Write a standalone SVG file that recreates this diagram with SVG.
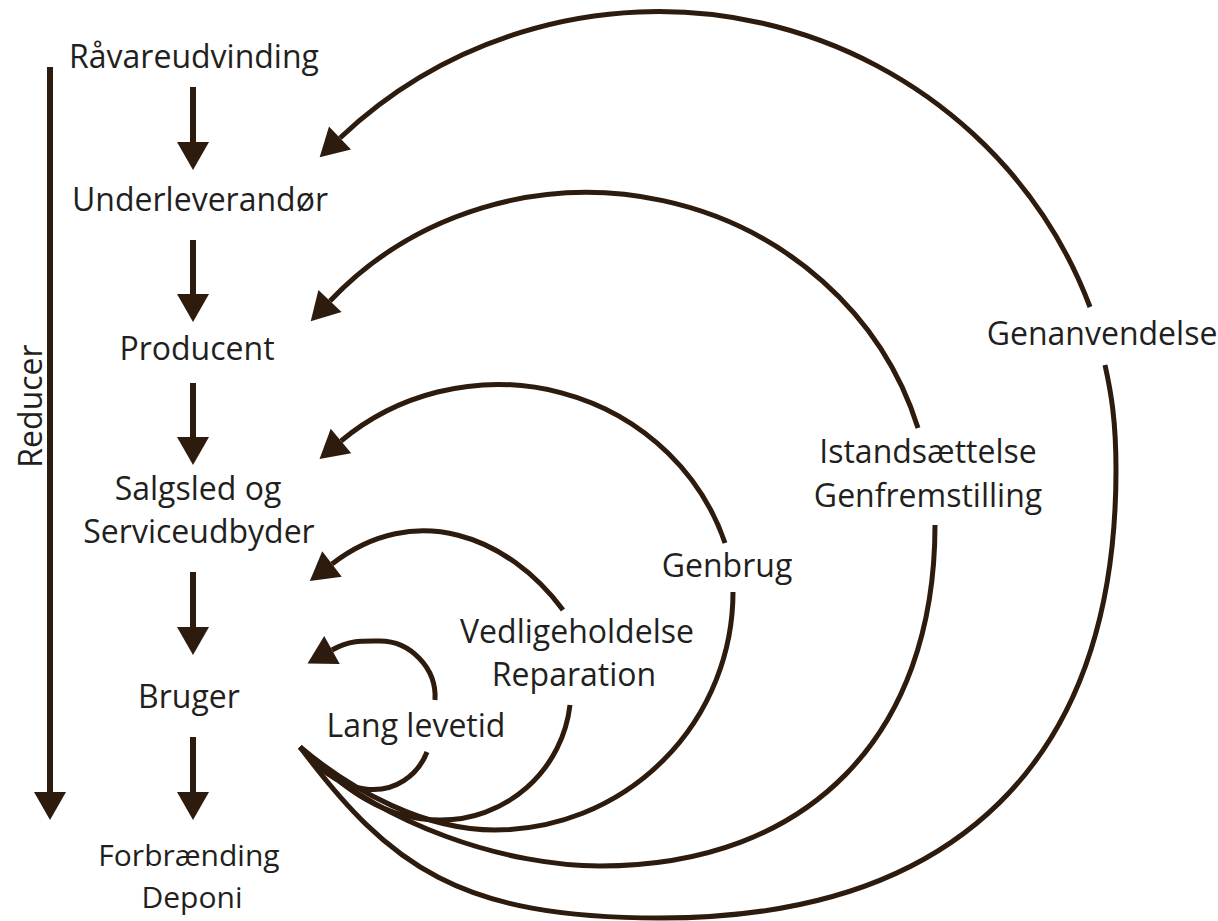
<svg xmlns="http://www.w3.org/2000/svg" width="1218" height="921" viewBox="0 0 1218 921">
<style>
  .lbl { font-family: "Open Sans", "Liberation Sans", sans-serif; font-size: 32px; fill: #231f20; text-anchor: middle; }
  .sm { font-size: 30px; }
  .ln { fill: none; stroke: #2d1b0e; stroke-width: 5; stroke-linecap: butt; }
  .vl { fill: none; stroke: #2d1b0e; stroke-width: 6; }
  .arr { marker-end: url(#ah); }
</style>
<defs>
  <marker id="ah" markerUnits="userSpaceOnUse" markerWidth="40" markerHeight="40" refX="0" refY="0" orient="auto" viewBox="-2 -20 34 40" overflow="visible">
    <path d="M0,-16 L28,0 L0,16 Z" fill="#2d1b0e"/>
  </marker>
</defs>
<rect width="1218" height="921" fill="#ffffff"/>

<g id="connectors">
  <!-- vertical flow arrows -->
  <line class="vl arr" x1="193" y1="87" x2="193" y2="142"/>
  <line class="vl arr" x1="193" y1="240" x2="193" y2="294"/>
  <line class="vl arr" x1="193" y1="383" x2="193" y2="437"/>
  <line class="vl arr" x1="193" y1="572" x2="193" y2="627"/>
  <line class="vl arr" x1="193" y1="737" x2="193" y2="792"/>
  <!-- Reducer arrow -->
  <line class="vl arr" x1="50" y1="67" x2="50" y2="792"/>

  <!-- Lang levetid -->
  <path class="ln" d="M300,747 C315,765 335,785 365,789 C395,793 418,775 427,752"/>
  <path class="ln arr" d="M435,700 C437,668 410,641 380,641 C362,641 350,640 332,650"/>

  <!-- Vedligeholdelse / Reparation -->
  <path class="ln" d="M300,747 C345,790 385,820 440,820 A130,130 0 0 0 570,705"/>
  <path class="ln arr" d="M563,610 C508,536 415,500 332,564"/>

  <!-- Genbrug -->
  <path class="ln" d="M300,747 C354,792 425,830 495,830 A238,238 0 0 0 733,592"/>
  <path class="ln arr" d="M725,543 A239,230 0 0 0 341,441"/>

  <!-- Istandsaettelse / Genfremstilling -->
  <path class="ln" d="M300,747 C380,827 510,866 600,866 C808,866 935,736 935,525"/>
  <path class="ln arr" d="M918,428 A346,330 0 0 0 330,301"/>

  <!-- Genanvendelse -->
  <path class="ln" d="M300,747 C390,867 460,918 660,918 C956,918 1116,761 1116,470 C1116,420 1111,392 1105,365"/>
  <path class="ln arr" d="M1090,307 A460,453 0 0 0 340,138"/>
</g>

<g id="raavareudvinding"><text class="lbl" x="194" y="68">Råvareudvinding</text></g>
<g id="underleverandoer"><text class="lbl" x="200" y="211">Underleverandør</text></g>
<g id="producent"><text class="lbl" x="197" y="360">Producent</text></g>
<g id="salgsled"><text class="lbl" x="198" y="500">Salgsled og</text><text class="lbl" x="199" y="543">Serviceudbyder</text></g>
<g id="bruger"><text class="lbl" x="189" y="708">Bruger</text></g>
<g id="forbraending"><text class="lbl sm" x="189" y="866">Forbrænding</text><text class="lbl sm" x="192" y="908">Deponi</text></g>
<g id="reducer"><text class="lbl" transform="translate(42,406) rotate(-90)">Reducer</text></g>

<g id="lbl-genanvendelse"><text class="lbl" x="1102" y="345">Genanvendelse</text></g>
<g id="lbl-istandsaettelse"><text class="lbl" x="928" y="463">Istandsættelse</text><text class="lbl" x="928" y="507">Genfremstilling</text></g>
<g id="lbl-genbrug"><text class="lbl" x="727" y="577">Genbrug</text></g>
<g id="lbl-vedligeholdelse"><text class="lbl" x="577" y="643">Vedligeholdelse</text><text class="lbl" x="574" y="686">Reparation</text></g>
<g id="lbl-langlevetid"><text class="lbl" x="416" y="737">Lang levetid</text></g>
</svg>
